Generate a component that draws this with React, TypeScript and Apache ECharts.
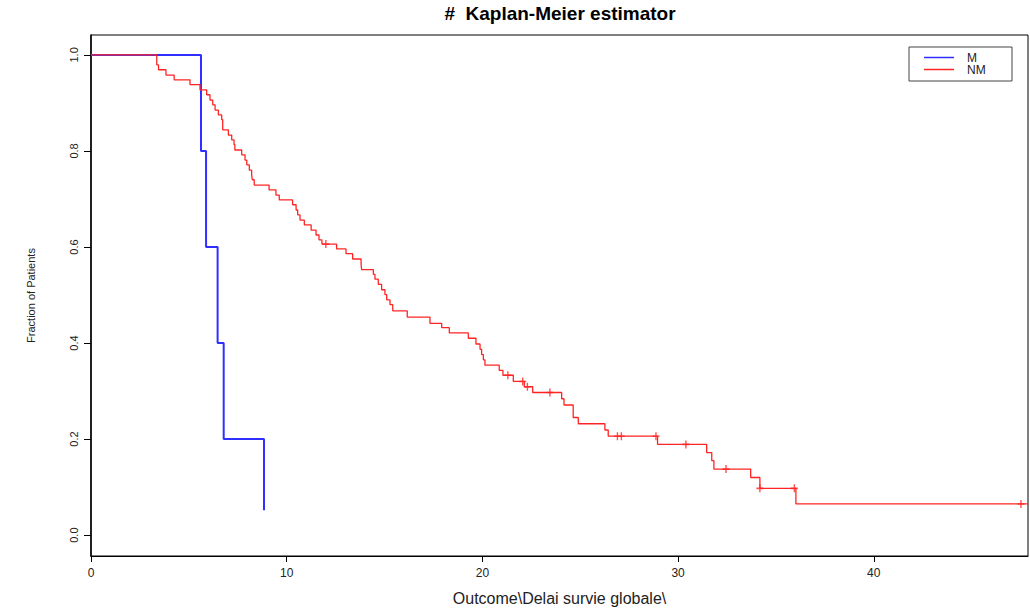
import React, { useEffect, useRef } from "react";
import * as echarts from "echarts";

const titleText = "#  Kaplan-Meier estimator";
const xAxisName = "Outcome\\Delai survie globale\\";
const yAxisName = "Fraction of Patients";
const seriesNames = ["M", "NM"];

const xTicks = [0, 10, 20, 30, 40];
const yTicks = [0, 0.2, 0.4, 0.6, 0.8, 1.0];

// Group M (blue)
const mTimes = [0, 5.62, 5.88, 6.47, 6.78, 8.84];
const mSurv = [1, 0.8, 0.6, 0.4, 0.2, 0.052];

// Group NM (red)
const nmTimes = [
  0, 3.36, 3.45, 3.83, 4.25, 5.06, 5.57, 5.91, 6.08, 6.22, 6.34, 6.51, 6.68, 6.73,
  7.02, 7.19, 7.31, 7.35, 7.7, 7.87, 7.96, 8.09, 8.21, 8.24, 8.34, 9.1, 9.45, 9.62,
  10.3, 10.48, 10.56, 10.68, 10.9, 11.25, 11.5, 11.65, 11.8, 12.55, 13.03, 13.37,
  13.8, 13.83, 14.43, 14.51, 14.68, 14.85, 15.02, 15.11, 15.28, 15.42, 16.16, 17.32,
  17.92, 18.31, 19.28, 19.67, 19.88, 19.96, 20.05, 20.13, 20.86, 21.05, 21.58,
  22.14, 22.57, 24.05, 24.17, 24.64, 24.9, 26.26, 26.43, 28.95, 31.46, 31.72, 31.83,
  33.71, 34.18, 36.02, 47.88,
];
const nmSurv = [
  1, 0.979, 0.969, 0.958, 0.948, 0.938, 0.927, 0.917, 0.906, 0.896, 0.885, 0.875, 0.865, 0.844,
  0.833, 0.823, 0.813, 0.802, 0.792, 0.781, 0.771, 0.76, 0.75, 0.74, 0.729, 0.719, 0.708, 0.698,
  0.688, 0.677, 0.667, 0.656, 0.646, 0.635, 0.625, 0.615, 0.606, 0.596, 0.586, 0.575,
  0.564, 0.553, 0.543, 0.533, 0.522, 0.511, 0.501, 0.49, 0.48, 0.467, 0.454, 0.441,
  0.432, 0.421, 0.41, 0.398, 0.387, 0.376, 0.365, 0.354, 0.343, 0.333, 0.32,
  0.309, 0.297, 0.284, 0.271, 0.245, 0.232, 0.219, 0.206, 0.189, 0.172, 0.155, 0.1375,
  0.12, 0.0975, 0.065, 0.065,
];

// Censored observations (NM)
const nmCensorTimes = [12.0, 21.3, 22.06, 22.3, 23.45, 26.9, 27.1, 28.87, 30.4, 32.45, 34.18, 35.94, 47.52];
const nmCensorSurv = [0.606, 0.333, 0.32, 0.309, 0.297, 0.206, 0.206, 0.206, 0.189, 0.1375, 0.0975, 0.0975, 0.065];

const BLUE = "#2f2fff";
const RED = "#ff2424";

export default function App() {
  const ref = useRef<HTMLDivElement>(null);

  useEffect(() => {
    if (!ref.current) return;
    const chart = echarts.init(ref.current, null, { renderer: "svg" });
    const plus = "path://M2.8,0H4.2V2.8H7V4.2H4.2V7H2.8V4.2H0V2.8H2.8Z";
    const option: any = {
      animation: false,
      backgroundColor: "#fff",
      title: {
        text: titleText,
        left: 555,
        top: -1,
        textAlign: "center",
        textStyle: {
          fontFamily: "Liberation Sans, Arial, sans-serif",
          fontWeight: "bold",
          fontSize: 19,
          color: "#000",
        },
      },
      grid: {
        left: 91,
        right: 2,
        top: 35,
        bottom: 50,
        show: true,
        borderColor: "#000",
        borderWidth: 1,
        backgroundColor: "transparent",
      },
      xAxis: {
        type: "value",
        min: 0,
        max: 47.88,
        name: xAxisName,
        nameLocation: "middle",
        nameGap: 34,
        nameTextStyle: {
          fontFamily: "Liberation Sans, Arial, sans-serif",
          fontSize: 16,
          color: "#222",
        },
        axisLine: { show: true, onZero: false, lineStyle: { color: "#000", width: 1 } },
        axisTick: { show: true, inside: false, length: 6, customValues: xTicks, lineStyle: { color: "#000" } },
        axisLabel: {
          customValues: xTicks,
          margin: 11,
          fontFamily: "Liberation Sans, Arial, sans-serif",
          fontSize: 12,
          color: "#222",
        },
        splitLine: { show: false },
      },
      yAxis: {
        type: "value",
        min: -0.0434,
        max: 1.0414,
        name: yAxisName,
        nameLocation: "middle",
        nameGap: 55,
        nameTextStyle: {
          fontFamily: "Liberation Sans, Arial, sans-serif",
          fontSize: 11,
          color: "#222",
        },
        axisLine: { show: true, onZero: false, lineStyle: { color: "#000", width: 1.5 } },
        axisTick: { show: true, inside: false, length: 7, customValues: yTicks, lineStyle: { color: "#000" } },
        axisLabel: {
          customValues: yTicks,
          rotate: 90,
          margin: 12,
          formatter: (v: number) => v.toFixed(1),
          fontFamily: "Liberation Sans, Arial, sans-serif",
          fontSize: 11,
          color: "#222",
        },
        splitLine: { show: false },
      },
      series: [
        {
          name: seriesNames[0],
          type: "line",
          step: "end",
          symbol: "none",
          data: mTimes.map((t, i) => [t, mSurv[i]]),
          lineStyle: { color: BLUE, width: 2 },
          z: 2,
        },
        {
          name: seriesNames[1],
          type: "line",
          step: "end",
          symbol: "none",
          data: nmTimes.map((t, i) => [t, nmSurv[i]]),
          lineStyle: { color: RED, width: 1.3 },
          z: 3,
        },
        {
          name: seriesNames[1] + " censored",
          type: "scatter",
          symbol: plus,
          symbolSize: [7, 8],
          data: nmCensorTimes.map((t, i) => [t, nmCensorSurv[i]]),
          itemStyle: { color: RED },
          z: 4,
        },
      ],
      graphic: [
        {
          type: "rect",
          shape: { x: 909, y: 47, width: 103, height: 34 },
          style: { fill: "#fff", stroke: "#444", lineWidth: 1 },
          z: 10,
        },
        {
          type: "line",
          shape: { x1: 924, y1: 57.5, x2: 954, y2: 57.5 },
          style: { stroke: BLUE, lineWidth: 1.5 },
          z: 11,
        },
        {
          type: "line",
          shape: { x1: 924, y1: 69.5, x2: 954, y2: 69.5 },
          style: { stroke: RED, lineWidth: 1.5 },
          z: 11,
        },
        {
          type: "text",
          x: 967,
          y: 57.5,
          style: {
            text: seriesNames[0],
            fill: "#222",
            font: "12px Liberation Sans, Arial, sans-serif",
            verticalAlign: "middle",
          },
          z: 11,
        },
        {
          type: "text",
          x: 967,
          y: 69.5,
          style: {
            text: seriesNames[1],
            fill: "#222",
            font: "12px Liberation Sans, Arial, sans-serif",
            verticalAlign: "middle",
          },
          z: 11,
        },
      ],
    };
    chart.setOption(option);
    return () => chart.dispose();
  }, []);

  return (
    <div
      ref={ref}
      style={{ position: "fixed", left: 0, top: 0, width: 1030, height: 611 }}
    />
  );
}
